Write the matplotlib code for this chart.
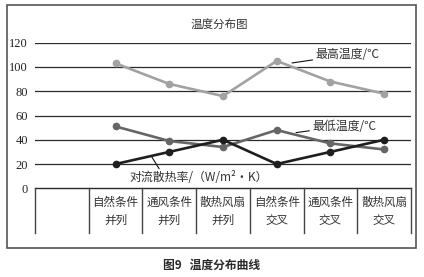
import matplotlib
matplotlib.use("Agg")
import matplotlib.pyplot as plt
import matplotlib.transforms as mtransforms
from matplotlib.patches import Rectangle
import numpy as np

plt.rcParams['font.family'] = ['Noto Sans CJK SC', 'DejaVu Sans']

categories = ['自然条件\n并列', '通风条件\n并列', '散热风扇\n并列',
              '自然条件\n交叉', '通风条件\n交叉', '散热风扇\n交叉']
max_temp = [103, 86, 76, 105, 88, 78]
min_temp = [51, 39, 34, 48, 37, 32]
conv_rate = [20, 30, 40, 20, 30, 40]
yticks = [0, 20, 40, 60, 80, 100, 120]

W, H = 424, 277
fig = plt.figure(figsize=(W / 100, H / 100), dpi=100)

def fx(px):
    return px / W

def fy(py):
    return 1 - py / H

# outer frame
fig.patches.append(Rectangle((fx(7), fy(248)), fx(416) - fx(7), fy(5) - fy(248),
                             transform=fig.transFigure, fill=False,
                             edgecolor='#555555', linewidth=1.2))

ax = fig.add_axes([fx(35), fy(188.3), fx(411) - fx(35), fy(42.7) - fy(188.3)])
n = len(categories)
x = np.arange(n) + 1
ax.set_xlim(-0.5, n + 0.5)
ax.set_ylim(0, 120)
for s in ax.spines.values():
    s.set_visible(False)
ax.set_xticks([])
ax.set_yticks(yticks)
ax.set_yticklabels([str(t) for t in yticks], family=['Liberation Serif'], fontsize=9, color='#222222')
ax.tick_params(axis='y', length=0, pad=5)
for t in yticks[1:]:
    ax.axhline(t, color='#2a2a2a', linewidth=0.9, zorder=1)

ax.plot(x, max_temp, color='#a2a2a2', lw=1.9, marker='o', ms=4.5, zorder=3)
ax.plot(x, min_temp, color='#666666', lw=1.9, marker='o', ms=4.5, zorder=4)
ax.plot(x, conv_rate, color='#1e1e1e', lw=1.9, marker='o', ms=4.5, zorder=5)

# table below the axes
trans = mtransforms.blended_transform_factory(ax.transData, ax.transAxes)
bottom = -(233 - 188.3) / 145.6
ax.plot([-0.5, n + 0.5], [0, 0], transform=trans, color='#2a2a2a', lw=1.0, clip_on=False)
for b in np.arange(n + 2) - 0.5:
    ax.plot([b, b], [0, bottom], transform=trans, color='#444444', lw=1.0, clip_on=False)
for xi, lab in zip(x, categories):
    ax.text(xi, -(211.3 - 188.3) / 145.6, lab, transform=trans, ha='center', va='center',
            fontsize=8.3, color='#333333', linespacing=1.45)

# title
fig.text(fx(219), fy(24), '温度分布图', ha='center', va='center', fontsize=8.3, color='#333333')

# annotations
lab_kw = dict(fontsize=8.6, color='#333333', va='center', ha='left')
ax.annotate('最高温度/℃', xy=(4.285, 103.3), xytext=(4.72, 110.0),
            arrowprops=dict(arrowstyle='-', color='#111111', lw=0.8, shrinkA=0, shrinkB=0), **lab_kw)
ax.annotate('最低温度/℃', xy=(4.36, 45.9), xytext=(4.66, 51.3),
            arrowprops=dict(arrowstyle='-', color='#111111', lw=0.8, shrinkA=0, shrinkB=0), **lab_kw)
ax.annotate('对流散热率/（W/m²•K）', xy=(1.673, 26.0), xytext=(1.25, 8.5),
            arrowprops=dict(arrowstyle='-', color='#111111', lw=0.8, shrinkA=0, shrinkB=0,
                            relpos=(0.23, 1.0)), **lab_kw)

# caption
fig.text(fx(212), fy(265), '图9   温度分布曲线', ha='center', va='center', fontsize=8.5,
         fontweight='bold', color='#2a2a2a')

fig.savefig('out.png', dpi=100)
